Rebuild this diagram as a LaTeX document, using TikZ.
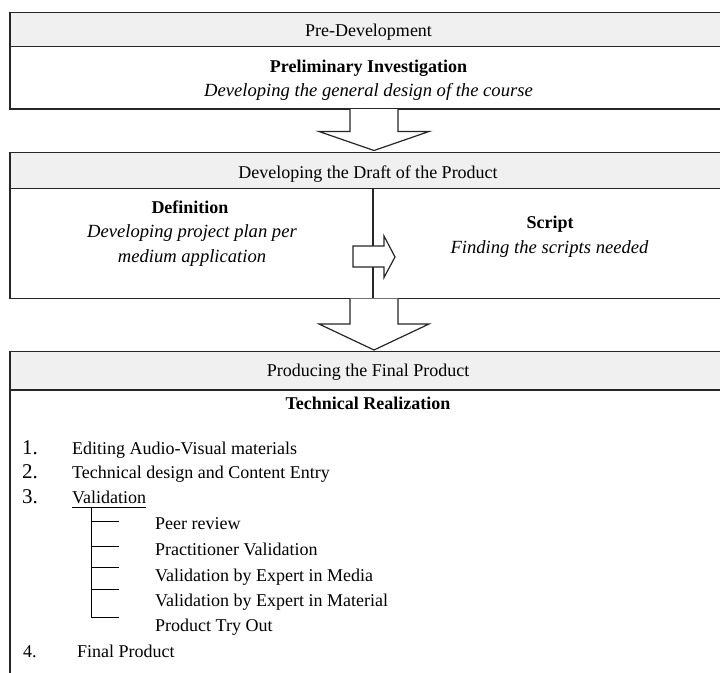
\documentclass[tikz,border=0pt]{standalone}
\usepackage{fontspec}
\setmainfont{Liberation Serif}
\begin{document}
\begin{tikzpicture}[x=1pt,y=-1pt,
  frame/.style={draw=black!85, line width=1.2pt},
  hdr/.style={frame, fill=black!6},
  txt/.style={anchor=base, inner sep=0pt, font=\fontsize{18}{21}\selectfont},
  ttl/.style={txt, font=\fontsize{18}{21}\selectfont\bfseries},
  itl/.style={txt, font=\fontsize{18.6}{21}\selectfont\itshape},
  lft/.style={txt, anchor=base west},
  num/.style={anchor=base west, inner sep=0pt, font=\fontsize{21}{24}\selectfont},
  blockarrow/.style={frame, fill=white, line join=miter},
  tree/.style={draw=black, line width=1.4pt}
]
\useasboundingbox (0,0) rectangle (720,672);
\begin{scope}
\clip (0,0) rectangle (720,672);
% box 1
\draw[hdr] (10,12.5) rectangle (727,46.5);
\draw[frame] (10,46.5) rectangle (727,109);
% box 2
\draw[hdr] (10,152.5) rectangle (727,188.5);
\draw[frame] (10,188.5) rectangle (727,298.5);
\draw[frame] (373,188.5) -- (373,298.5);
% box 3
\draw[hdr] (10,351.5) rectangle (727,390);
\draw[frame] (10,390) rectangle (727,690);
\end{scope}
% block arrows
\draw[blockarrow] (350,109) -- (350,131.5) -- (319,131.5) -- (374,150.5) -- (429,131.5) -- (398,131.5) -- (398,109);
\draw[blockarrow] (350,298.5) -- (350,324) -- (319,324) -- (374,350) -- (429,324) -- (398,324) -- (398,298.5);
\draw[blockarrow] (353,246) -- (384,246) -- (384,236) -- (395,257) -- (384,277.5) -- (384,267) -- (353,267) -- cycle;
% texts
\node[txt] (pre) at (368.5,36.5) {Pre-Development};
\node[ttl] (prelim) at (368.5,72.5) {Preliminary Investigation};
\node[itl] (prelimd) at (368.5,96) {Developing the general design of the course};
\node[txt] (draft) at (368,178) {Developing the Draft of the Product};
\node[ttl] (def) at (190,213) {Definition};
\node[itl] (def1) at (192,237) {Developing project plan per};
\node[itl] (def2) at (192,262) {medium application};
\node[ttl] (scr) at (550,228.5) {Script};
\node[itl] (scr1) at (549.5,253) {Finding the scripts needed};
\node[txt] (prod) at (368,376.5) {Producing the Final Product};
\node[ttl] (tech) at (368,409) {Technical Realization};
% list
\node[num] (n1) at (22,454) {1.};
\node[num] (n2) at (22,478) {2.};
\node[num] (n3) at (22,503) {3.};
\node[lft] (n4) at (23,657) {4.};
\node[lft] (i1) at (72,454) {Editing Audio-Visual materials};
\node[lft] (i2) at (72,478) {Technical design and Content Entry};
\node[lft] (i3) at (72,503) {Validation};
\node[lft] (i4) at (77,657) {Final Product};
\draw[tree] (72,507.5) coordinate (ul1) -- (146,507.5) coordinate (ul2);
\coordinate (top) at (91.5,507.5);
\node[lft] (s1) at (155,529) {Peer review};
\node[lft] (s2) at (155,555) {Practitioner Validation};
\node[lft] (s3) at (155,581) {Validation by Expert in Media};
\node[lft] (s4) at (155,606) {Validation by Expert in Material};
\node[lft] (s5) at (155,631) {Product Try Out};
\draw[tree] (top) -- (91.5,617.5) -- (118.5,617.5);
\draw[tree] (91.5,521.5) -- (118.5,521.5);
\draw[tree] (91.5,546.5) -- (118.5,546.5);
\draw[tree] (91.5,567.5) -- (118.5,567.5);
\draw[tree] (91.5,589.5) -- (118.5,589.5);
\end{tikzpicture}
\end{document}
